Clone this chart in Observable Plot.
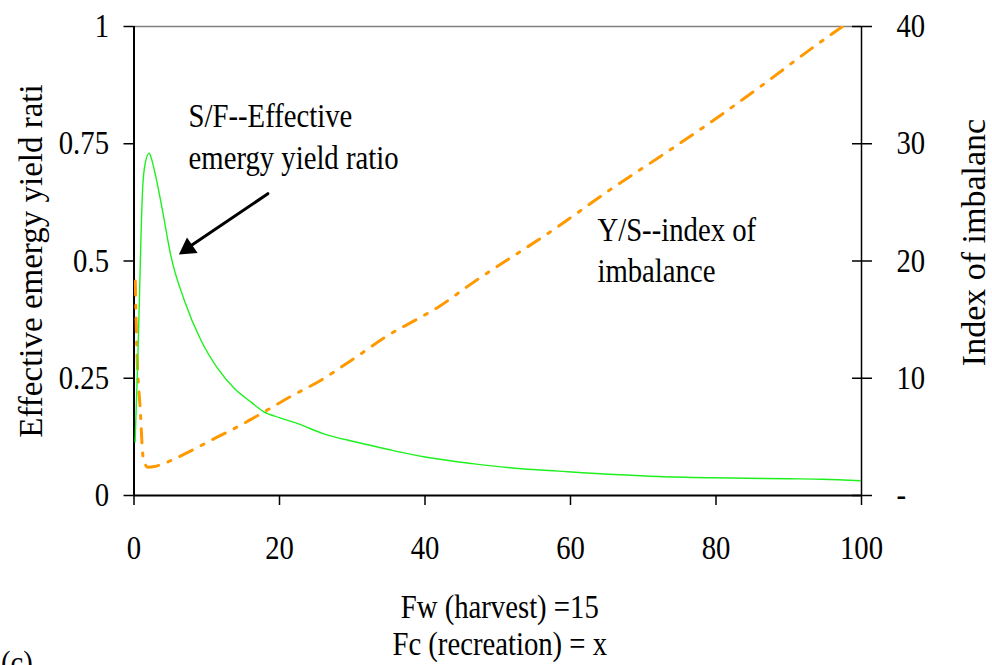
<!DOCTYPE html>
<html><head><meta charset="utf-8">
<script src="https://cdn.jsdelivr.net/npm/d3@7"></script>
<script src="https://cdn.jsdelivr.net/npm/@observablehq/plot@0.6"></script>
<style>
body{margin:0;background:#fff;overflow:hidden}
svg{display:block}
#chart svg, #chart svg text { font-family: "Liberation Serif", "Times New Roman", serif !important; }
</style>
</head><body><div id="chart"></div>
<script>
// Fc (recreation) values and series
const xTicks = [0, 20, 40, 60, 80, 100];
const yLeftTicks = [0, 0.25, 0.5, 0.75, 1];
const yRightTicks = [0, 10, 20, 30, 40];
const yRightMax = 40;

// S/F -- Effective emergy yield ratio (left axis)
const greenX = [0.15, 0.5, 0.73, 0.96, 1.19, 1.55, 2.1, 2.3, 3.0, 3.9, 5.1, 6.9, 9.2, 11.5, 13.8, 16.1, 17.8, 20, 22.7, 26, 30.5, 35, 40, 46.5, 53.3, 58.3, 72, 79.6, 90, 94.6, 100];
const greenY = [0.114, 0.28, 0.41, 0.552, 0.655, 0.709, 0.73, 0.723, 0.68, 0.609, 0.509, 0.417, 0.331, 0.271, 0.228, 0.199, 0.179, 0.166, 0.152, 0.132, 0.114, 0.098, 0.082, 0.068, 0.057, 0.052, 0.0406, 0.0378, 0.0357, 0.0348, 0.0314];

// Y/S -- index of imbalance (right axis)
const orangeX = [0.18, 0.37, 0.86, 1.27, 1.87, 3.0, 4.6, 6.5, 11.5, 14.6, 17.8, 21.4, 25.7, 29.8, 35.3, 39.4, 41.9, 46, 58.2, 65.5, 72.3, 77.8, 85.5, 93.3, 97.6, 100];
const orangeY = [18.3, 13.0, 7.3, 3.2, 2.42, 2.5, 2.85, 3.4, 5.0, 5.98, 7.1, 8.4, 9.83, 11.5, 13.8, 15.2, 16.1, 17.9, 22.9, 26.1, 28.9, 31.2, 34.6, 38.2, 40.1, 41.2];

const leftLabel = "Effective emergy yield rati";
const rightLabel = "Index of imbalanc";
const captionLines = ["Fw (harvest) =15", "Fc (recreation) = x"];
const panelTag = "(c)";
const noteGreen = ["S/F--Effective", "emergy yield ratio"];
const noteOrange = ["Y/S--index of", "imbalance"];

const green = greenX.map((x, i) => ({x, y: greenY[i]}));
const orange = orangeX.map((x, i) => ({x, y: orangeY[i] / yRightMax}));
const rightLabelOf = (d) => { const v = Math.round(d * yRightMax); return v === 0 ? "-" : String(v); };

const font = "Liberation Serif, Times New Roman, serif";
const fs = 33;
const narrow = 0.87; // the reference's lettering is horizontally condensed
const T = {fontSize: fs, fontFamily: font, fill: "#000"};

const chart = Plot.plot({
  width: 992,
  height: 665,
  marginLeft: 133.5,
  marginRight: 131,
  marginTop: 26,
  marginBottom: 170,
  style: {fontFamily: font, fontSize: fs + "px", color: "#000", background: "#fff"},
  x: {domain: [0, 100]},
  y: {domain: [0, 1]},
  marks: [
    Plot.ruleY([1], {stroke: "#808080", strokeWidth: 1.5}),
    Plot.axisX({ticks: xTicks, tickSize: 10, tickPadding: 30, label: null, fontSize: fs, fontFamily: font, strokeWidth: 1.5, tickFormat: (d) => String(d)}),
    Plot.axisY({ticks: yLeftTicks, tickSize: 10, tickPadding: 15, label: null, fontSize: fs, fontFamily: font, strokeWidth: 1.5, tickFormat: (d) => String(d)}),
    Plot.axisY({anchor: "right", ticks: yLeftTicks, tickSize: 10, tickPadding: 25, label: null, fontSize: fs, fontFamily: font, strokeWidth: 1.5, tickFormat: rightLabelOf}),
    Plot.axisY({anchor: "right", ticks: yLeftTicks, tickSize: -10, tickFormat: () => "", label: null, strokeWidth: 1.5}),
    Plot.ruleX([0], {stroke: "#000", strokeWidth: 2}),
    Plot.ruleX([100], {stroke: "#000", strokeWidth: 1.5}),
    Plot.ruleY([0], {stroke: "#000", strokeWidth: 2}),
    Plot.line(orange, {x: "x", y: "y", stroke: "#FF9900", strokeWidth: 3, strokeDasharray: "14,10,3,10", curve: "monotone-x", clip: true}),
    Plot.line(green, {x: "x", y: "y", stroke: "#1ef01e", strokeWidth: 1.4, curve: "monotone-x", clip: true}),
    Plot.text([noteGreen[0]], {x: 7.5, y: 0.8076, textAnchor: "start", ...T}),
    Plot.text([noteGreen[1]], {x: 7.5, y: 0.719, textAnchor: "start", ...T}),
    Plot.arrow([{x1: 18.4, y1: 0.6435, x2: 7.2, y2: 0.526}], {x1: "x1", y1: "y1", x2: "x2", y2: "y2", stroke: "#000", strokeWidth: 3, headLength: 0}),
    Plot.dot([{x: 7.4, y: 0.527}], {x: "x", y: "y", symbol: "triangle", r: 7, fill: "#000", stroke: "none", rotate: 235.5}),
    Plot.text([noteOrange[0]], {x: 63.7, y: 0.566, textAnchor: "start", ...T}),
    Plot.text([noteOrange[1]], {x: 63.7, y: 0.478, textAnchor: "start", ...T}),
    Plot.text([leftLabel], {frameAnchor: "left", textAnchor: "middle", rotate: -90, dx: -102.5, dy: 0, ...T}),
    Plot.text([rightLabel], {frameAnchor: "right", textAnchor: "middle", rotate: -90, dx: 113, dy: -18.5, ...T, fontSize: 34}),
    Plot.text([captionLines[0]], {frameAnchor: "bottom", lineAnchor: "middle", dx: 2, dy: 112, ...T}),
    Plot.text([captionLines[1]], {frameAnchor: "bottom", lineAnchor: "middle", dx: 2, dy: 149, ...T}),
    Plot.text([panelTag], {frameAnchor: "bottom-left", lineAnchor: "middle", dx: -133, dy: 168, textAnchor: "start", ...T})
  ]
});
document.getElementById("chart").append(chart);

// condense horizontal lettering like the reference (rotated labels keep their length)
chart.querySelectorAll("text").forEach((el) => {
  const tr = (el.getAttribute("transform") || "") + (el.parentNode.getAttribute("transform") || "");
  if (/rotate/.test(tr)) return;
  const len = el.getComputedTextLength();
  if (len > 0) {
    el.setAttribute("textLength", (len * narrow).toFixed(2));
    el.setAttribute("lengthAdjust", "spacingAndGlyphs");
  }
});
</script>
</body></html>
